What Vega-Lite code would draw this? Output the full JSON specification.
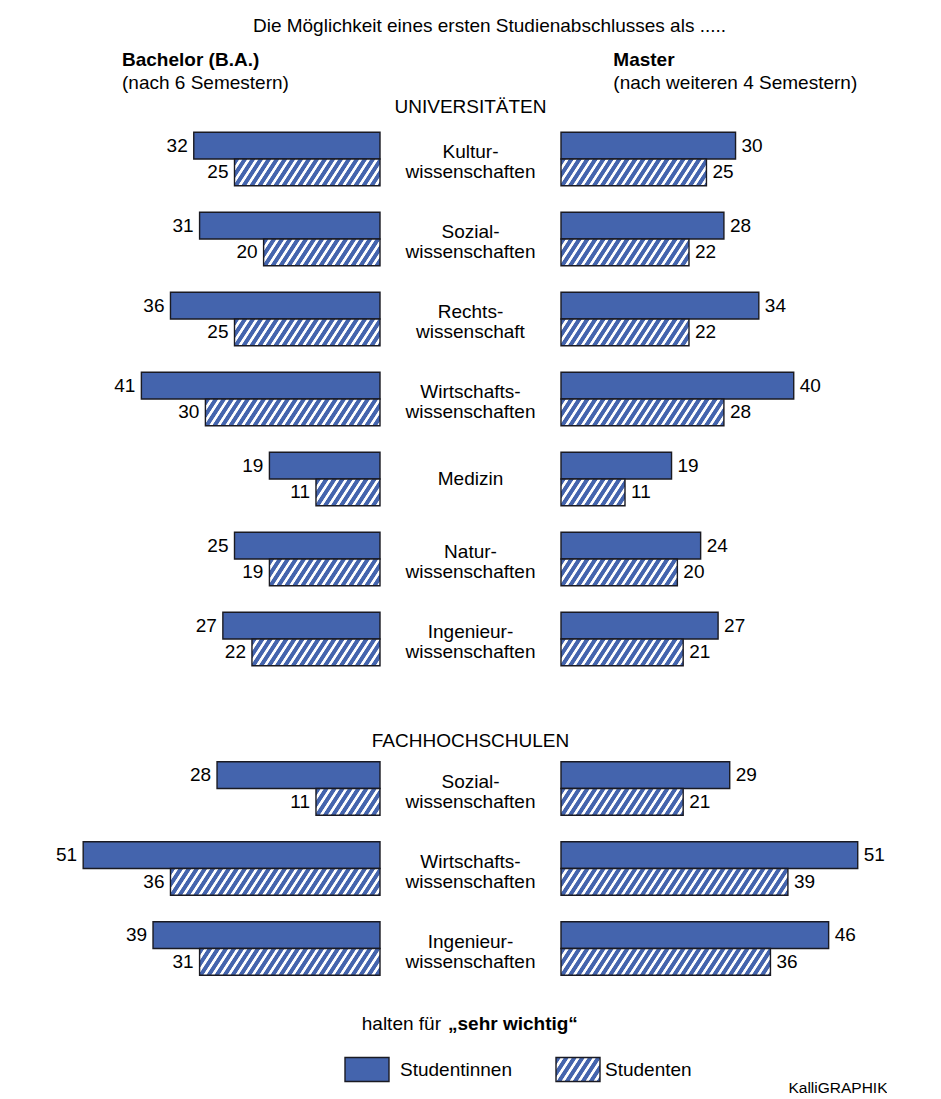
{
  "$schema": "https://vega.github.io/schema/vega-lite/v6.json",
  "padding": {"left": 40, "top": 17, "right": 0, "bottom": 0},
  "params": [
    {"name": "hatch", "value": [
      {"offset":0.0019,"color":"#4464ad"},{"offset":0.0181,"color":"#4464ad"},{"offset":0.0213,"color":"#ffffff"},{"offset":0.0310,"color":"#ffffff"},
      {"offset":0.0342,"color":"#4464ad"},{"offset":0.0503,"color":"#4464ad"},{"offset":0.0535,"color":"#ffffff"},{"offset":0.0632,"color":"#ffffff"},
      {"offset":0.0665,"color":"#4464ad"},{"offset":0.0826,"color":"#4464ad"},{"offset":0.0858,"color":"#ffffff"},{"offset":0.0955,"color":"#ffffff"},
      {"offset":0.0987,"color":"#4464ad"},{"offset":0.1148,"color":"#4464ad"},{"offset":0.1181,"color":"#ffffff"},{"offset":0.1277,"color":"#ffffff"},
      {"offset":0.1310,"color":"#4464ad"},{"offset":0.1471,"color":"#4464ad"},{"offset":0.1503,"color":"#ffffff"},{"offset":0.1600,"color":"#ffffff"},
      {"offset":0.1632,"color":"#4464ad"},{"offset":0.1794,"color":"#4464ad"},{"offset":0.1826,"color":"#ffffff"},{"offset":0.1923,"color":"#ffffff"},
      {"offset":0.1955,"color":"#4464ad"},{"offset":0.2116,"color":"#4464ad"},{"offset":0.2148,"color":"#ffffff"},{"offset":0.2245,"color":"#ffffff"},
      {"offset":0.2277,"color":"#4464ad"},{"offset":0.2439,"color":"#4464ad"},{"offset":0.2471,"color":"#ffffff"},{"offset":0.2568,"color":"#ffffff"},
      {"offset":0.2600,"color":"#4464ad"},{"offset":0.2761,"color":"#4464ad"},{"offset":0.2794,"color":"#ffffff"},{"offset":0.2890,"color":"#ffffff"},
      {"offset":0.2923,"color":"#4464ad"},{"offset":0.3084,"color":"#4464ad"},{"offset":0.3116,"color":"#ffffff"},{"offset":0.3213,"color":"#ffffff"},
      {"offset":0.3245,"color":"#4464ad"},{"offset":0.3406,"color":"#4464ad"},{"offset":0.3439,"color":"#ffffff"},{"offset":0.3535,"color":"#ffffff"},
      {"offset":0.3568,"color":"#4464ad"},{"offset":0.3729,"color":"#4464ad"},{"offset":0.3761,"color":"#ffffff"},{"offset":0.3858,"color":"#ffffff"},
      {"offset":0.3890,"color":"#4464ad"},{"offset":0.4052,"color":"#4464ad"},{"offset":0.4084,"color":"#ffffff"},{"offset":0.4181,"color":"#ffffff"},
      {"offset":0.4213,"color":"#4464ad"},{"offset":0.4374,"color":"#4464ad"},{"offset":0.4406,"color":"#ffffff"},{"offset":0.4503,"color":"#ffffff"},
      {"offset":0.4535,"color":"#4464ad"},{"offset":0.4697,"color":"#4464ad"},{"offset":0.4729,"color":"#ffffff"},{"offset":0.4826,"color":"#ffffff"},
      {"offset":0.4858,"color":"#4464ad"},{"offset":0.5019,"color":"#4464ad"},{"offset":0.5052,"color":"#ffffff"},{"offset":0.5148,"color":"#ffffff"},
      {"offset":0.5181,"color":"#4464ad"},{"offset":0.5342,"color":"#4464ad"},{"offset":0.5374,"color":"#ffffff"},{"offset":0.5471,"color":"#ffffff"},
      {"offset":0.5503,"color":"#4464ad"},{"offset":0.5665,"color":"#4464ad"},{"offset":0.5697,"color":"#ffffff"},{"offset":0.5794,"color":"#ffffff"},
      {"offset":0.5826,"color":"#4464ad"},{"offset":0.5987,"color":"#4464ad"},{"offset":0.6019,"color":"#ffffff"},{"offset":0.6116,"color":"#ffffff"},
      {"offset":0.6148,"color":"#4464ad"},{"offset":0.6310,"color":"#4464ad"},{"offset":0.6342,"color":"#ffffff"},{"offset":0.6439,"color":"#ffffff"},
      {"offset":0.6471,"color":"#4464ad"},{"offset":0.6632,"color":"#4464ad"},{"offset":0.6665,"color":"#ffffff"},{"offset":0.6761,"color":"#ffffff"},
      {"offset":0.6794,"color":"#4464ad"},{"offset":0.6955,"color":"#4464ad"},{"offset":0.6987,"color":"#ffffff"},{"offset":0.7084,"color":"#ffffff"},
      {"offset":0.7116,"color":"#4464ad"},{"offset":0.7277,"color":"#4464ad"},{"offset":0.7310,"color":"#ffffff"},{"offset":0.7406,"color":"#ffffff"},
      {"offset":0.7439,"color":"#4464ad"},{"offset":0.7600,"color":"#4464ad"},{"offset":0.7632,"color":"#ffffff"},{"offset":0.7729,"color":"#ffffff"},
      {"offset":0.7761,"color":"#4464ad"},{"offset":0.7923,"color":"#4464ad"},{"offset":0.7955,"color":"#ffffff"},{"offset":0.8052,"color":"#ffffff"},
      {"offset":0.8084,"color":"#4464ad"},{"offset":0.8245,"color":"#4464ad"},{"offset":0.8277,"color":"#ffffff"},{"offset":0.8374,"color":"#ffffff"},
      {"offset":0.8406,"color":"#4464ad"},{"offset":0.8568,"color":"#4464ad"},{"offset":0.8600,"color":"#ffffff"},{"offset":0.8697,"color":"#ffffff"},
      {"offset":0.8729,"color":"#4464ad"},{"offset":0.8890,"color":"#4464ad"},{"offset":0.8923,"color":"#ffffff"},{"offset":0.9019,"color":"#ffffff"},
      {"offset":0.9052,"color":"#4464ad"},{"offset":0.9213,"color":"#4464ad"},{"offset":0.9245,"color":"#ffffff"},{"offset":0.9342,"color":"#ffffff"},
      {"offset":0.9374,"color":"#4464ad"},{"offset":0.9535,"color":"#4464ad"},{"offset":0.9568,"color":"#ffffff"},{"offset":0.9665,"color":"#ffffff"},
      {"offset":0.9697,"color":"#4464ad"},{"offset":0.9858,"color":"#4464ad"},{"offset":0.9890,"color":"#ffffff"},{"offset":0.9987,"color":"#ffffff"}
    ]}
  ],
  "title": {"text": "Die Möglichkeit eines ersten Studienabschlusses als .....", "anchor": "middle", "dx": 26, "offset": 15, "fontSize": 19, "fontWeight": "normal"},
  "datasets": {
    "d": [
      {"sektor":"Uni","fach":"Kultur-\nwissenschaften","abschluss":"Bachelor","gruppe":"Studentinnen","wert":32},
      {"sektor":"Uni","fach":"Kultur-\nwissenschaften","abschluss":"Bachelor","gruppe":"Studenten","wert":25},
      {"sektor":"Uni","fach":"Kultur-\nwissenschaften","abschluss":"Master","gruppe":"Studentinnen","wert":30},
      {"sektor":"Uni","fach":"Kultur-\nwissenschaften","abschluss":"Master","gruppe":"Studenten","wert":25},
      {"sektor":"Uni","fach":"Sozial-\nwissenschaften","abschluss":"Bachelor","gruppe":"Studentinnen","wert":31},
      {"sektor":"Uni","fach":"Sozial-\nwissenschaften","abschluss":"Bachelor","gruppe":"Studenten","wert":20},
      {"sektor":"Uni","fach":"Sozial-\nwissenschaften","abschluss":"Master","gruppe":"Studentinnen","wert":28},
      {"sektor":"Uni","fach":"Sozial-\nwissenschaften","abschluss":"Master","gruppe":"Studenten","wert":22},
      {"sektor":"Uni","fach":"Rechts-\nwissenschaft","abschluss":"Bachelor","gruppe":"Studentinnen","wert":36},
      {"sektor":"Uni","fach":"Rechts-\nwissenschaft","abschluss":"Bachelor","gruppe":"Studenten","wert":25},
      {"sektor":"Uni","fach":"Rechts-\nwissenschaft","abschluss":"Master","gruppe":"Studentinnen","wert":34},
      {"sektor":"Uni","fach":"Rechts-\nwissenschaft","abschluss":"Master","gruppe":"Studenten","wert":22},
      {"sektor":"Uni","fach":"Wirtschafts-\nwissenschaften","abschluss":"Bachelor","gruppe":"Studentinnen","wert":41},
      {"sektor":"Uni","fach":"Wirtschafts-\nwissenschaften","abschluss":"Bachelor","gruppe":"Studenten","wert":30},
      {"sektor":"Uni","fach":"Wirtschafts-\nwissenschaften","abschluss":"Master","gruppe":"Studentinnen","wert":40},
      {"sektor":"Uni","fach":"Wirtschafts-\nwissenschaften","abschluss":"Master","gruppe":"Studenten","wert":28},
      {"sektor":"Uni","fach":"Medizin","abschluss":"Bachelor","gruppe":"Studentinnen","wert":19},
      {"sektor":"Uni","fach":"Medizin","abschluss":"Bachelor","gruppe":"Studenten","wert":11},
      {"sektor":"Uni","fach":"Medizin","abschluss":"Master","gruppe":"Studentinnen","wert":19},
      {"sektor":"Uni","fach":"Medizin","abschluss":"Master","gruppe":"Studenten","wert":11},
      {"sektor":"Uni","fach":"Natur-\nwissenschaften","abschluss":"Bachelor","gruppe":"Studentinnen","wert":25},
      {"sektor":"Uni","fach":"Natur-\nwissenschaften","abschluss":"Bachelor","gruppe":"Studenten","wert":19},
      {"sektor":"Uni","fach":"Natur-\nwissenschaften","abschluss":"Master","gruppe":"Studentinnen","wert":24},
      {"sektor":"Uni","fach":"Natur-\nwissenschaften","abschluss":"Master","gruppe":"Studenten","wert":20},
      {"sektor":"Uni","fach":"Ingenieur-\nwissenschaften","abschluss":"Bachelor","gruppe":"Studentinnen","wert":27},
      {"sektor":"Uni","fach":"Ingenieur-\nwissenschaften","abschluss":"Bachelor","gruppe":"Studenten","wert":22},
      {"sektor":"Uni","fach":"Ingenieur-\nwissenschaften","abschluss":"Master","gruppe":"Studentinnen","wert":27},
      {"sektor":"Uni","fach":"Ingenieur-\nwissenschaften","abschluss":"Master","gruppe":"Studenten","wert":21},
      {"sektor":"FH","fach":"Sozial-\nwissenschaften","abschluss":"Bachelor","gruppe":"Studentinnen","wert":28},
      {"sektor":"FH","fach":"Sozial-\nwissenschaften","abschluss":"Bachelor","gruppe":"Studenten","wert":11},
      {"sektor":"FH","fach":"Sozial-\nwissenschaften","abschluss":"Master","gruppe":"Studentinnen","wert":29},
      {"sektor":"FH","fach":"Sozial-\nwissenschaften","abschluss":"Master","gruppe":"Studenten","wert":21},
      {"sektor":"FH","fach":"Wirtschafts-\nwissenschaften","abschluss":"Bachelor","gruppe":"Studentinnen","wert":51},
      {"sektor":"FH","fach":"Wirtschafts-\nwissenschaften","abschluss":"Bachelor","gruppe":"Studenten","wert":36},
      {"sektor":"FH","fach":"Wirtschafts-\nwissenschaften","abschluss":"Master","gruppe":"Studentinnen","wert":51},
      {"sektor":"FH","fach":"Wirtschafts-\nwissenschaften","abschluss":"Master","gruppe":"Studenten","wert":39},
      {"sektor":"FH","fach":"Ingenieur-\nwissenschaften","abschluss":"Bachelor","gruppe":"Studentinnen","wert":39},
      {"sektor":"FH","fach":"Ingenieur-\nwissenschaften","abschluss":"Bachelor","gruppe":"Studenten","wert":31},
      {"sektor":"FH","fach":"Ingenieur-\nwissenschaften","abschluss":"Master","gruppe":"Studentinnen","wert":46},
      {"sektor":"FH","fach":"Ingenieur-\nwissenschaften","abschluss":"Master","gruppe":"Studenten","wert":36}
    ],
    "legende": [
      {"gruppe":"Studentinnen"},
      {"gruppe":"Studenten"}
    ]
  },
  "data": {"name": "d"},
  "spacing": 25.5,
  "vconcat": [
    {
      "spacing": 52.5,
      "vconcat": [
        {
          "spacing": 0,
          "bounds": "flush",
          "hconcat": [
            {
              "width": 340, "height": 560,
              "title": {"text": "Bachelor (B.A.)", "subtitle": "(nach 6 Semestern)", "anchor": "start", "dx": 82, "fontWeight": "bold", "offset": 26},
              "transform": [{"filter": "datum.sektor === 'Uni' && datum.abschluss === 'Bachelor'"}],
              "encoding": {
                "y": {"field": "fach", "type": "nominal", "sort": null, "axis": null, "scale": {"paddingInner": 0.33, "paddingOuter": 0.165}},
                "yOffset": {"field": "gruppe", "type": "nominal", "sort": ["Studentinnen", "Studenten"], "scale": {"paddingInner": 0, "paddingOuter": 0}},
                "x": {"field": "wert", "type": "quantitative", "axis": null, "scale": {"domain": [0, 58.42], "reverse": true, "nice": false}}
              },
              "layer": [
                {"mark": {"type": "bar", "stroke": "#1a1a22", "strokeWidth": 1.4, "fill": {"expr": "datum.gruppe === 'Studenten' ? {gradient: 'linear', x1: 0, y1: 0, x2: 248*datum.wert*5.82/(pow(datum.wert*5.82,2)+303.46), y2: 4320.2/(pow(datum.wert*5.82,2)+303.46), stops: hatch} : '#4464ad'"}}},
                {"mark": {"type": "text", "align": "right", "dx": -6, "fontSize": 19}, "encoding": {"text": {"field": "wert", "type": "quantitative"}}}
              ]
            },
            {
              "width": 181, "height": 560,
              "title": {"text": "UNIVERSITÄTEN", "anchor": "middle", "offset": 2},
              "transform": [{"filter": "datum.sektor === 'Uni' && datum.abschluss === 'Bachelor' && datum.gruppe === 'Studentinnen'"}],
              "mark": {"type": "text", "lineBreak": "\n", "lineHeight": 20, "fontSize": 19, "dy": {"expr": "indexof(datum.fach, '-') >= 0 ? -7 : 0"}},
              "encoding": {
                "y": {"field": "fach", "type": "nominal", "sort": null, "axis": null, "scale": {"paddingInner": 0.33, "paddingOuter": 0.165}},
                "text": {"field": "fach", "type": "nominal"}
              }
            },
            {
              "width": 320, "height": 560,
              "title": {"text": "Master", "subtitle": "(nach weiteren 4 Semestern)", "anchor": "start", "dx": 53, "fontWeight": "bold", "offset": 26},
              "transform": [{"filter": "datum.sektor === 'Uni' && datum.abschluss === 'Master'"}],
              "encoding": {
                "y": {"field": "fach", "type": "nominal", "sort": null, "axis": null, "scale": {"paddingInner": 0.33, "paddingOuter": 0.165}},
                "yOffset": {"field": "gruppe", "type": "nominal", "sort": ["Studentinnen", "Studenten"], "scale": {"paddingInner": 0, "paddingOuter": 0}},
                "x": {"field": "wert", "type": "quantitative", "axis": null, "scale": {"domain": [0, 55], "nice": false}}
              },
              "layer": [
                {"mark": {"type": "bar", "stroke": "#1a1a22", "strokeWidth": 1.4, "fill": {"expr": "datum.gruppe === 'Studenten' ? {gradient: 'linear', x1: 0, y1: 0, x2: 248*datum.wert*5.82/(pow(datum.wert*5.82,2)+303.46), y2: 4320.2/(pow(datum.wert*5.82,2)+303.46), stops: hatch} : '#4464ad'"}}},
                {"mark": {"type": "text", "align": "left", "dx": 6, "fontSize": 19}, "encoding": {"text": {"field": "wert", "type": "quantitative"}}}
              ]
            }
          ]
        },
        {
          "spacing": 0,
          "bounds": "flush",
          "hconcat": [
            {
              "width": 340, "height": 240,
              "transform": [{"filter": "datum.sektor === 'FH' && datum.abschluss === 'Bachelor'"}],
              "encoding": {
                "y": {"field": "fach", "type": "nominal", "sort": null, "axis": null, "scale": {"paddingInner": 0.33, "paddingOuter": 0.165}},
                "yOffset": {"field": "gruppe", "type": "nominal", "sort": ["Studentinnen", "Studenten"], "scale": {"paddingInner": 0, "paddingOuter": 0}},
                "x": {"field": "wert", "type": "quantitative", "axis": null, "scale": {"domain": [0, 58.42], "reverse": true, "nice": false}}
              },
              "layer": [
                {"mark": {"type": "bar", "stroke": "#1a1a22", "strokeWidth": 1.4, "fill": {"expr": "datum.gruppe === 'Studenten' ? {gradient: 'linear', x1: 0, y1: 0, x2: 248*datum.wert*5.82/(pow(datum.wert*5.82,2)+303.46), y2: 4320.2/(pow(datum.wert*5.82,2)+303.46), stops: hatch} : '#4464ad'"}}},
                {"mark": {"type": "text", "align": "right", "dx": -6, "fontSize": 19}, "encoding": {"text": {"field": "wert", "type": "quantitative"}}}
              ]
            },
            {
              "width": 181, "height": 240,
              "title": {"text": "FACHHOCHSCHULEN", "anchor": "middle", "offset": -2},
              "transform": [{"filter": "datum.sektor === 'FH' && datum.abschluss === 'Bachelor' && datum.gruppe === 'Studentinnen'"}],
              "mark": {"type": "text", "lineBreak": "\n", "lineHeight": 20, "fontSize": 19, "dy": {"expr": "indexof(datum.fach, '-') >= 0 ? -7 : 0"}},
              "encoding": {
                "y": {"field": "fach", "type": "nominal", "sort": null, "axis": null, "scale": {"paddingInner": 0.33, "paddingOuter": 0.165}},
                "text": {"field": "fach", "type": "nominal"}
              }
            },
            {
              "width": 320, "height": 240,
              "transform": [{"filter": "datum.sektor === 'FH' && datum.abschluss === 'Master'"}],
              "encoding": {
                "y": {"field": "fach", "type": "nominal", "sort": null, "axis": null, "scale": {"paddingInner": 0.33, "paddingOuter": 0.165}},
                "yOffset": {"field": "gruppe", "type": "nominal", "sort": ["Studentinnen", "Studenten"], "scale": {"paddingInner": 0, "paddingOuter": 0}},
                "x": {"field": "wert", "type": "quantitative", "axis": null, "scale": {"domain": [0, 55], "nice": false}}
              },
              "layer": [
                {"mark": {"type": "bar", "stroke": "#1a1a22", "strokeWidth": 1.4, "fill": {"expr": "datum.gruppe === 'Studenten' ? {gradient: 'linear', x1: 0, y1: 0, x2: 248*datum.wert*5.82/(pow(datum.wert*5.82,2)+303.46), y2: 4320.2/(pow(datum.wert*5.82,2)+303.46), stops: hatch} : '#4464ad'"}}},
                {"mark": {"type": "text", "align": "left", "dx": 6, "fontSize": 19}, "encoding": {"text": {"field": "wert", "type": "quantitative"}}}
              ]
            }
          ]
        }
      ]
    },
    {
      "spacing": 0,
      "bounds": "flush",
      "hconcat": [
        {
          "width": 404, "height": 24,
          "data": {"name": "legende"},
          "title": {"text": "halten für", "anchor": "end", "frame": "group", "dx": -3, "offset": 23},
          "transform": [{"filter": "datum.gruppe === 'Studentinnen'"}],
          "encoding": {
            "x": {"field": "gruppe", "type": "nominal", "axis": null, "scale": {"range": [305, 349], "paddingInner": 0, "paddingOuter": 0}}
          },
          "layer": [
            {"mark": {"type": "bar", "stroke": "#1a1a22", "strokeWidth": 1.4, "fill": "#4464ad"}},
            {"mark": {"type": "text", "align": "left", "dx": 33, "fontSize": 19}, "encoding": {"text": {"field": "gruppe", "type": "nominal"}}}
          ]
        },
        {
          "width": 437, "height": 24,
          "data": {"name": "legende"},
          "title": {"text": "„sehr wichtig“", "anchor": "start", "frame": "group", "dx": 4, "offset": 23, "fontWeight": "bold"},
          "transform": [{"filter": "datum.gruppe === 'Studenten'"}],
          "encoding": {
            "x": {"field": "gruppe", "type": "nominal", "scale": {"range": [112, 156], "paddingInner": 0, "paddingOuter": 0},
                  "axis": {"title": "KalliGRAPHIK", "labels": false, "ticks": false, "domain": false, "titleX": 443, "titleY": -1, "titleAlign": "right", "titleAnchor": null, "titleFontSize": 15.5, "titleFontWeight": "normal", "titleFont": "Liberation Sans", "titleBaseline": "top", "titleColor": "#000000"}}
          },
          "layer": [
            {"mark": {"type": "bar", "stroke": "#1a1a22", "strokeWidth": 1.4, "fill": {"expr": "{gradient: 'linear', x1: 0, y1: 0, x2: 5.007, y2: 1.775, stops: hatch}"}}},
            {"mark": {"type": "text", "align": "left", "dx": 27, "fontSize": 19}, "encoding": {"text": {"field": "gruppe", "type": "nominal"}}}
          ]
        }
      ]
    }
  ],
  "config": {
    "view": {"stroke": null},
    "font": "Liberation Sans",
    "title": {"font": "Liberation Sans", "fontSize": 19, "fontWeight": "normal", "color": "#000000", "subtitleFont": "Liberation Sans", "subtitleFontSize": 19, "subtitleColor": "#000000", "subtitlePadding": 4},
    "text": {"font": "Liberation Sans", "fontSize": 19, "color": "#000000"}
  }
}
